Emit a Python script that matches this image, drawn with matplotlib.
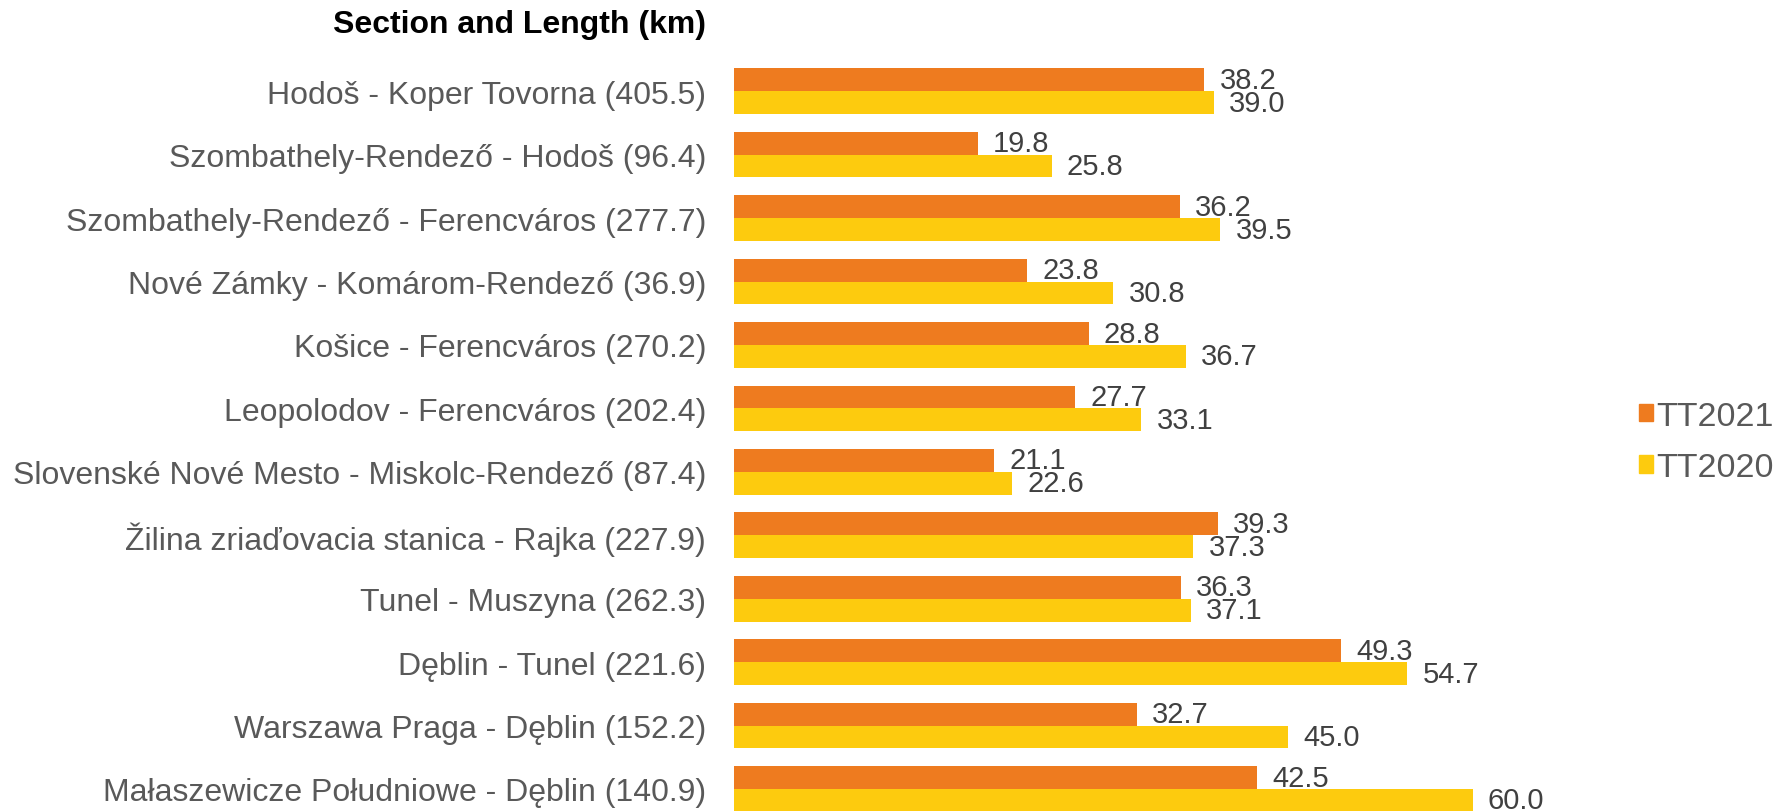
import numpy as np
import matplotlib
matplotlib.use("Agg")
import matplotlib.pyplot as plt
from matplotlib.patches import Patch

plt.rcParams['font.family'] = ['Liberation Sans', 'DejaVu Sans']

# section names with length in km
sections = [
    "Hodoš - Koper Tovorna (405.5)",
    "Szombathely-Rendező - Hodoš (96.4)",
    "Szombathely-Rendező - Ferencváros (277.7)",
    "Nové Zámky - Komárom-Rendező (36.9)",
    "Košice - Ferencváros (270.2)",
    "Leopolodov - Ferencváros (202.4)",
    "Slovenské Nové Mesto - Miskolc-Rendező (87.4)",
    "Žilina zriaďovacia stanica - Rajka (227.9)",
    "Tunel - Muszyna (262.3)",
    "Dęblin - Tunel (221.6)",
    "Warszawa Praga - Dęblin (152.2)",
    "Małaszewicze Południowe - Dęblin (140.9)",
]
tt2021 = [38.2, 19.8, 36.2, 23.8, 28.8, 27.7, 21.1, 39.3, 36.3, 49.3, 32.7, 42.5]
tt2020 = [39.0, 25.8, 39.5, 30.8, 36.7, 33.1, 22.6, 37.3, 37.1, 54.7, 45.0, 60.0]

c21 = '#EE7B1F'
c20 = '#FDCB0E'

W, H = 1785, 812
fig = plt.figure(figsize=(W / 100, H / 100), dpi=100)

# axes placed in pixels so the last bar runs off the bottom like the original
ax_left, ax_top, ax_bot, ax_w = 734, 60.5, 821.7, 800
ax = fig.add_axes([ax_left / W, (H - ax_bot) / H, ax_w / W, (ax_bot - ax_top) / H])

y = np.arange(len(sections))
bh = 0.36
ax.barh(y - bh / 2, tt2021, height=bh, color=c21, label='TT2021')
ax.barh(y + bh / 2, tt2020, height=bh, color=c20, label='TT2020')

ax.set_xlim(0, ax_w / 12.31)
ax.set_ylim(len(sections) - 0.5, -0.5)

for i in range(len(sections)):
    ax.annotate(f"{tt2021[i]:.1f}", (tt2021[i], y[i] - bh / 2), xytext=(11, 0),
                textcoords='offset points', va='center', ha='left',
                fontsize=21, color='#404040')
    ax.annotate(f"{tt2020[i]:.1f}", (tt2020[i], y[i] + bh / 2), xytext=(11, 0),
                textcoords='offset points', va='center', ha='left',
                fontsize=21, color='#404040')

ax.set_yticks(y)
ax.set_yticklabels(sections, fontsize=23, color='#595959')
ax.tick_params(axis='y', length=0, pad=20)
ax.set_xticks([])
for s in ax.spines.values():
    s.set_visible(False)

fig.text(706 / W, 1 - 25 / H, "Section and Length (km)", ha='right', va='center',
         fontsize=23, fontweight='bold', color='black')

handles = [Patch(color=c21), Patch(color=c20)]
fig.legend(handles, ['TT2021', 'TT2020'], loc='center left',
           bbox_to_anchor=(1639 / W, 1 - 443 / H), frameon=False,
           borderaxespad=0, borderpad=0,
           fontsize=24.5, labelcolor='#595959', handlelength=0.4, handleheight=0.4,
           handletextpad=0.1, labelspacing=0.6)

fig.savefig("out.png", dpi=100)
